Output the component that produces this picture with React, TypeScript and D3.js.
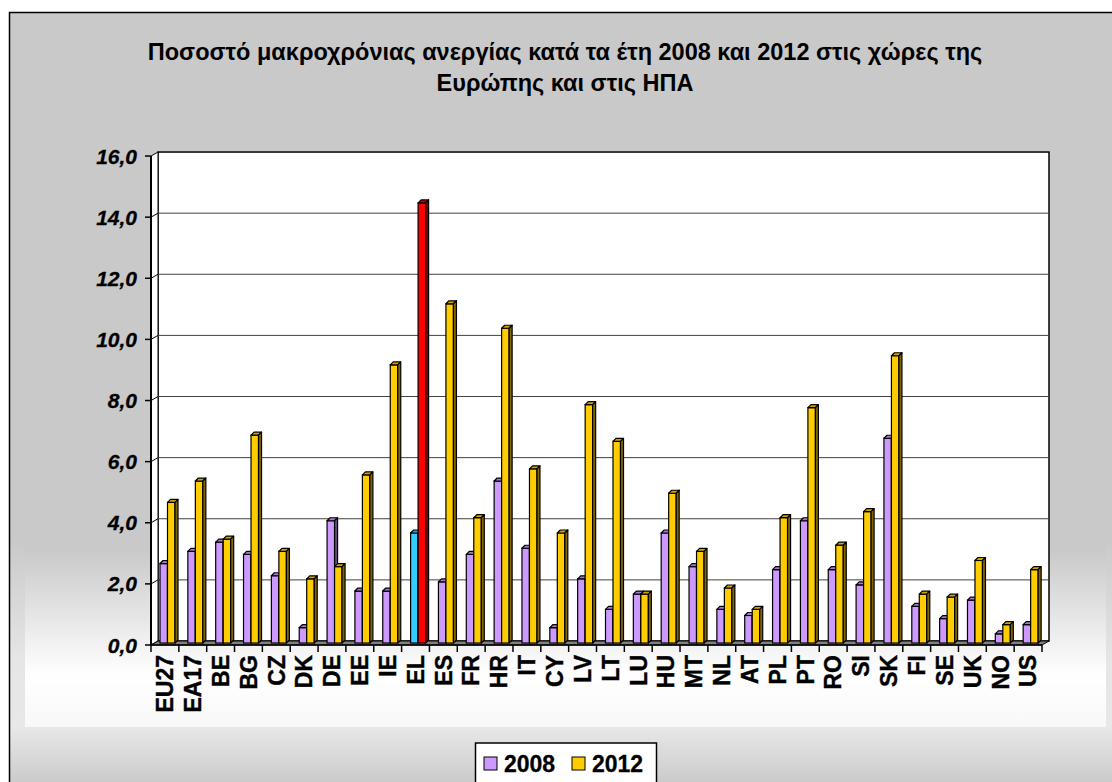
import React from "react";
import * as d3 from "d3";

const categories = ["EU27","EA17","BE","BG","CZ","DK","DE","EE","IE","EL","ES","FR","HR","IT","CY","LV","LT","LU","HU","MT","NL","AT","PL","PT","RO","SI","SK","FI","SE","UK","NO","US"];
const values2008 = [2.6,3.0,3.3,2.9,2.2,0.5,4.0,1.7,1.7,3.6,2.0,2.9,5.3,3.1,0.5,2.1,1.1,1.6,3.6,2.5,1.1,0.9,2.4,4.0,2.4,1.9,6.7,1.2,0.8,1.4,0.3,0.6];
const values2012 = [4.6,5.3,3.4,6.8,3.0,2.1,2.5,5.5,9.1,14.4,11.1,4.1,10.3,5.7,3.6,7.8,6.6,1.6,4.9,3.0,1.8,1.1,4.1,7.7,3.2,4.3,9.4,1.6,1.5,2.7,0.6,2.4];
const seriesNames = ["2008","2012"];
const yTicks = [0,2,4,6,8,10,12,14,16];
const titleLines = ["Ποσοστό μακροχρόνιας ανεργίας κατά τα έτη 2008 και 2012 στις χώρες της","Ευρώπης και στις ΗΠΑ"];

const FONT = "Arial, 'Liberation Sans', sans-serif";

function shade(c: string, k: number) {
  const col = d3.rgb(c);
  return d3.rgb(col.r * k, col.g * k, col.b * k).formatHex();
}

export default function App() {
  const W = 1112, H = 782;
  const frontLeft = 151, frontRight = 1042;
  const DX = 7;
  const x = d3.scaleBand<string>().domain(categories).range([frontLeft, frontRight]).paddingInner(0).paddingOuter(0);
  const xs = d3.scaleBand<string>().domain(seriesNames).range([9, 24]);
  const yBar = d3.scaleLinear().domain([0, 16]).range([643, 643 - 16 * 30.56]);
  const yBack = (v: number) => yBar(v) - 2;
  const yFront = (v: number) => yBar(v) + 2;
  const backLeft = frontLeft + DX, backRight = frontRight + DX;

  const colorFor = (cat: string, s: string) => {
    if (cat === "EL") return s === "2008" ? "#33CCFF" : "#FF0000";
    return s === "2008" ? "#CC99FF" : "#FFCC00";
  };

  const bd = 3;
  const bars: any[] = [];
  categories.forEach((cat, i) => {
    [values2008[i], values2012[i]].forEach((v, si) => {
      const s = seriesNames[si];
      const x0 = (x(cat) as number) + (xs(s) as number);
      const w = xs.bandwidth();
      const yt = yBar(v), yb = yBar(0);
      const c = colorFor(cat, s);
      bars.push(
        <g key={cat + s}>
          <rect x={x0} y={yt} width={w} height={yb - yt} fill={c} stroke="#000" strokeWidth={1.2} />
          <polygon points={`${x0},${yt} ${x0 + w},${yt} ${x0 + w + bd},${yt - bd} ${x0 + bd},${yt - bd}`} fill={shade(c, 0.8)} stroke="#000" strokeWidth={1.2} strokeLinejoin="round" />
          <polygon points={`${x0 + w},${yt} ${x0 + w + bd},${yt - bd} ${x0 + w + bd},${yb - bd} ${x0 + w},${yb}`} fill={shade(c, 0.5)} stroke="#000" strokeWidth={1.2} strokeLinejoin="round" />
        </g>
      );
    });
  });

  const tickXs = d3.range(categories.length + 1).map((i) => frontLeft + i * x.step());

  return (
    <div style={{ position: "absolute", left: 0, top: 0, width: W, height: H, overflow: "hidden" }}>
      <svg width={W} height={H} style={{ display: "block" }}>
        <defs>
          <linearGradient id="outerG" gradientUnits="userSpaceOnUse" x1="0" y1="0" x2="0" y2={H}>
            <stop offset={0} stopColor="#C9C9C9" />
            <stop offset={540 / H} stopColor="#C9C9C9" />
            <stop offset={660 / H} stopColor="#E6E6E6" />
            <stop offset={727 / H} stopColor="#E8E8E8" />
            <stop offset={1} stopColor="#CBCBCB" />
          </linearGradient>
          <linearGradient id="innerG" gradientUnits="userSpaceOnUse" x1="0" y1="0" x2="0" y2={H}>
            <stop offset={0} stopColor="#C9C9C9" />
            <stop offset={550 / H} stopColor="#C9C9C9" />
            <stop offset={675 / H} stopColor="#FFFFFF" />
            <stop offset={727 / H} stopColor="#F8F8F8" />
            <stop offset={1} stopColor="#F8F8F8" />
          </linearGradient>
        </defs>
        <rect x={9.5} y={12.5} width={W + 20} height={H + 20} fill="url(#outerG)" stroke="#000" strokeWidth={1.5} />
        <rect x={25} y={400} width={1081} height={327} fill="url(#innerG)" />

        {titleLines.map((t, i) => (
          <text key={i} x={565} y={60 + i * 31} textAnchor="middle" fontFamily={FONT} fontWeight="bold" fontSize={23.5} fill="#000">{t}</text>
        ))}

        <rect x={backLeft} y={yBack(16)} width={backRight - backLeft} height={yBack(0) - yBack(16)} fill="#FFFFFF" stroke="#000" strokeWidth={1.5} />
        <polygon points={`${frontLeft},${yFront(16)} ${backLeft},${yBack(16)} ${backLeft},${yBack(0)} ${frontLeft},${yFront(0)}`} fill="#FFFFFF" stroke="#000" strokeWidth={1} />
        {yTicks.filter((v) => v > 0 && v < 16).map((v) => (
          <g key={v}>
            <line x1={backLeft} x2={backRight} y1={yBack(v)} y2={yBack(v)} stroke="#404040" strokeWidth={1} />
            <line x1={frontLeft} x2={backLeft} y1={yFront(v)} y2={yBack(v)} stroke="#000" strokeWidth={1} />
          </g>
        ))}
        <polygon points={`${frontLeft},${yFront(0)} ${backLeft},${yBack(0)} ${backRight},${yBack(0)} ${frontRight},${yFront(0)}`} fill="#808080" stroke="#000" strokeWidth={1} />
        <line x1={frontLeft} x2={frontLeft} y1={yFront(16)} y2={yFront(0)} stroke="#000" strokeWidth={2} />
        {yTicks.map((v) => (
          <g key={v}>
            <line x1={frontLeft - 6} x2={frontLeft} y1={yFront(v)} y2={yFront(v)} stroke="#000" strokeWidth={1.5} />
            <text x={137} y={yFront(v)} dy="0.36em" textAnchor="end" fontFamily={FONT} fontWeight="bold" fontStyle="italic" fontSize={21} fill="#000" stroke="#000" strokeWidth={0.3}>{d3.format(".1f")(v).replace(".", ",")}</text>
          </g>
        ))}
        <line x1={frontLeft} x2={frontRight} y1={yFront(0)} y2={yFront(0)} stroke="#000" strokeWidth={1.5} />
        {tickXs.map((tx, i) => (
          <line key={i} x1={tx} x2={tx} y1={yFront(0)} y2={yFront(0) + 7} stroke="#000" strokeWidth={1.5} />
        ))}

        {bars}

        {categories.map((c) => {
          const cx = (x(c) as number) + x.bandwidth() / 2;
          return (
            <text key={c} transform={`translate(${cx},655) rotate(-90)`} dy="0.36em" textAnchor="end" fontFamily={FONT} fontWeight="bold" fontSize={23} fill="#000" stroke="#000" strokeWidth={0.4}>{c}</text>
          );
        })}

        <rect x={475.5} y={743} width={181} height={60} fill="#FFFFFF" stroke="#000" strokeWidth={1.5} />
        {seriesNames.map((s, i) => (
          <g key={s}>
            <rect x={484 + i * 88} y={757} width={13} height={13} fill={i === 0 ? "#CC99FF" : "#FFCC00"} stroke="#000" strokeWidth={1} />
            <text x={504 + i * 88} y={772} fontFamily={FONT} fontWeight="bold" fontSize={23} fill="#000" stroke="#000" strokeWidth={0.3}>{s}</text>
          </g>
        ))}
      </svg>
    </div>
  );
}
